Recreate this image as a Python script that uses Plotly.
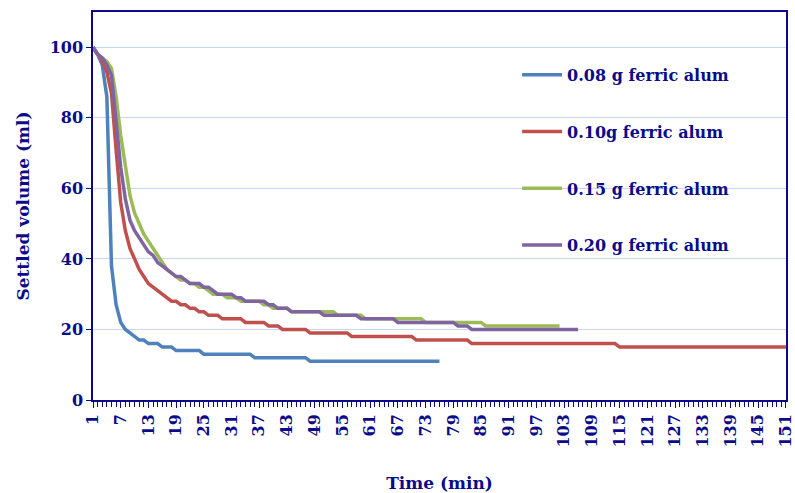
import plotly.graph_objects as go

# Time axis (min)
time_min = list(range(1, 152))
tick_labels = [str(v) for v in range(1, 152, 6)]

series_names = ["0.08 g ferric alum", "0.10g ferric alum", "0.15 g ferric alum", "0.20 g ferric alum"]
series_colors = ["#4F81BD", "#C0504D", "#9BBB59", "#8064A2"]

vol_008 = [100, 98, 95, 86, 38, 27, 22, 20, 19, 18,
           17, 17, 16, 16, 16, 15, 15, 15, 14, 14,
           14, 14, 14, 14, 13, 13, 13, 13, 13, 13,
           13, 13, 13, 13, 13, 12, 12, 12, 12, 12,
           12, 12, 12, 12, 12, 12, 12, 11, 11, 11,
           11, 11, 11, 11, 11, 11, 11, 11, 11, 11,
           11, 11, 11, 11, 11, 11, 11, 11, 11, 11,
           11, 11, 11, 11, 11, 11]

vol_010 = [100, 98, 96, 93, 87, 71, 56, 48, 43, 40,
           37, 35, 33, 32, 31, 30, 29, 28, 28, 27,
           27, 26, 26, 25, 25, 24, 24, 24, 23, 23,
           23, 23, 23, 22, 22, 22, 22, 22, 21, 21,
           21, 20, 20, 20, 20, 20, 20, 19, 19, 19,
           19, 19, 19, 19, 19, 19, 18, 18, 18, 18,
           18, 18, 18, 18, 18, 18, 18, 18, 18, 18,
           17, 17, 17, 17, 17, 17, 17, 17, 17, 17,
           17, 17, 16, 16, 16, 16, 16, 16, 16, 16,
           16, 16, 16, 16, 16, 16, 16, 16, 16, 16,
           16, 16, 16, 16, 16, 16, 16, 16, 16, 16,
           16, 16, 16, 16, 15, 15, 15, 15, 15, 15,
           15, 15, 15, 15, 15, 15, 15, 15, 15, 15,
           15, 15, 15, 15, 15, 15, 15, 15, 15, 15,
           15, 15, 15, 15, 15, 15, 15, 15, 15, 15,
           15]

vol_015 = [100, 98, 97, 96, 94, 86, 75, 66, 58, 53,
           50, 47, 45, 43, 41, 39, 37, 36, 35, 34,
           34, 33, 33, 32, 32, 31, 30, 30, 30, 29,
           29, 29, 28, 28, 28, 28, 28, 27, 27, 26,
           26, 26, 26, 25, 25, 25, 25, 25, 25, 25,
           25, 25, 25, 24, 24, 24, 24, 24, 24, 23,
           23, 23, 23, 23, 23, 23, 23, 23, 23, 23,
           23, 23, 22, 22, 22, 22, 22, 22, 22, 22,
           22, 22, 22, 22, 22, 21, 21, 21, 21, 21,
           21, 21, 21, 21, 21, 21, 21, 21, 21, 21,
           21, 21]

vol_020 = [100, 98, 97, 95, 92, 79, 66, 57, 51, 48,
           46, 44, 42, 41, 39, 38, 37, 36, 35, 35,
           34, 33, 33, 33, 32, 32, 31, 30, 30, 30,
           30, 29, 29, 28, 28, 28, 28, 28, 27, 27,
           26, 26, 26, 25, 25, 25, 25, 25, 25, 25,
           24, 24, 24, 24, 24, 24, 24, 24, 23, 23,
           23, 23, 23, 23, 23, 23, 22, 22, 22, 22,
           22, 22, 22, 22, 22, 22, 22, 22, 22, 21,
           21, 21, 20, 20, 20, 20, 20, 20, 20, 20,
           20, 20, 20, 20, 20, 20, 20, 20, 20, 20,
           20, 20, 20, 20, 20, 20]

all_series = [vol_008, vol_010, vol_015, vol_020]

NAVY = "#0b0b8a"
FONT = "DejaVu Serif"

fig = go.Figure()
for i, (name, color, vals) in enumerate(zip(series_names, series_colors, all_series)):
    fig.add_trace(go.Scatter(
        x=time_min[:len(vals)], y=vals, mode="lines", name=name,
        legendgroup=f"g{i}",
        line=dict(color=color, width=3.5),
    ))

fig.update_layout(
    width=795, height=493,
    margin=dict(l=93, r=9, t=12, b=93),
    paper_bgcolor="white", plot_bgcolor="white",
    font=dict(family=FONT, color=NAVY, size=16),
    showlegend=True,
    legend=dict(
        x=0.612, y=0.882, xanchor="left", yanchor="top",
        font=dict(family=FONT, size=16, color=NAVY, weight="bold"),
        tracegroupgap=33, bgcolor="rgba(0,0,0,0)", itemwidth=40,
    ),
)

fig.update_xaxes(
    range=[1, 151.02], tickmode="array",
    tickvals=[int(t) for t in tick_labels], ticktext=tick_labels,
    tickangle=-90, ticks="outside", ticklen=6, tickcolor=NAVY,
    tickfont=dict(family=FONT, size=16, color=NAVY, weight="bold"),
    ticklabeloverflow="allow",
    minor=dict(dtick=1, tick0=1, ticks="outside", ticklen=5, tickcolor=NAVY, showgrid=False),
    showline=True, linecolor=NAVY, linewidth=1.5, mirror=True,
    showgrid=False, zeroline=False, automargin=False,
    title=dict(text="Time (min)", font=dict(family=FONT, size=17, color=NAVY, weight="bold"), standoff=32),
)

fig.update_yaxes(
    range=[0, 110], tick0=0, dtick=20,
    ticks="outside", ticklen=5, tickcolor=NAVY,
    tickfont=dict(family=FONT, size=16, color=NAVY, weight="bold"),
    showline=True, linecolor=NAVY, linewidth=1.5, mirror=True,
    showgrid=True, gridcolor="#c6d9f0", gridwidth=1.2, zeroline=False, automargin=False,
    title=dict(text="Settled volume (ml)", font=dict(family=FONT, size=17, color=NAVY, weight="bold"), standoff=16),
)

fig.write_html("out.html")
